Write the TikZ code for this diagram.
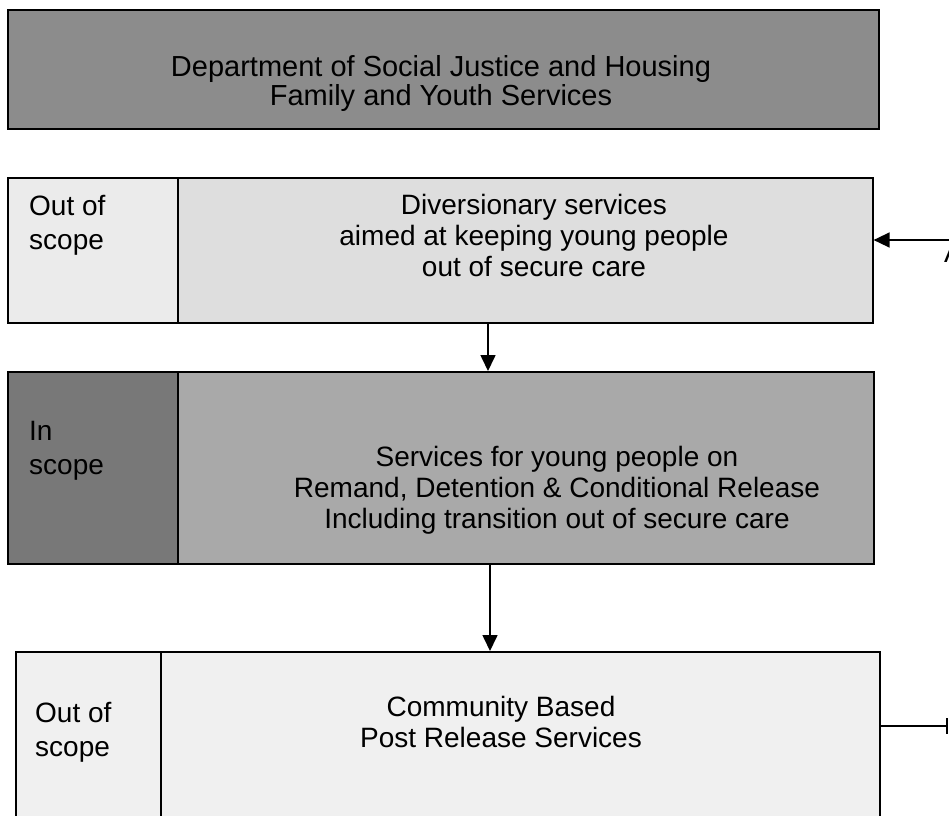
\documentclass[tikz,border=0pt]{standalone}
\usepackage{fontspec}
\setmainfont{Liberation Sans}
\usetikzlibrary{arrows.meta}
\definecolor{topgray}{HTML}{8C8C8C}
\definecolor{divleft}{HTML}{EBEBEB}
\definecolor{divright}{HTML}{DEDEDE}
\definecolor{inleft}{HTML}{787878}
\definecolor{inright}{HTML}{A9A9A9}
\definecolor{botgray}{HTML}{F0F0F0}
\begin{document}
\begin{tikzpicture}[x=1pt,y=-1pt,
  box/.style={draw=black, line width=1.6pt, inner sep=0pt, anchor=north west},
  txt/.style={align=center, inner sep=0pt, font=\fontsize{28}{31}\selectfont},
  toptxt/.style={align=center, inner sep=0pt, font=\fontsize{29}{29}\selectfont},
  lbl/.style={align=left, anchor=west, inner sep=0pt, font=\fontsize{28}{34}\selectfont},
  arr/.style={line width=1.6pt, -{Triangle[length=16pt,width=15pt]}},
  tee/.style={line width=1.6pt, -{Bar[width=16pt,line width=1.6pt]}}]
\useasboundingbox (0,0) rectangle (949,815);
\clip (0,0) rectangle (949,815);
% top box
\node[box, fill=topgray, minimum width=871pt, minimum height=119pt] (top) at (7,9) {};
\node[toptxt] (toptext) at (441,83) {Department of Social Justice and Housing\\Family and Youth Services};
% diversionary
\node[box, fill=divleft, minimum width=170pt, minimum height=145pt] (divL) at (7,177) {};
\node[box, fill=divright, minimum width=695pt, minimum height=145pt] (divR) at (177,177) {};
\node[lbl] (divlbl) at (29,225) {Out of\\scope};
\node[txt] (divtext) at (534,235) {Diversionary services\\aimed at keeping young people\\out of secure care};
% in scope
\node[box, fill=inleft, minimum width=170pt, minimum height=192pt] (inL) at (7,371) {};
\node[box, fill=inright, minimum width=696pt, minimum height=192pt] (inR) at (177,371) {};
\node[lbl] (inlbl) at (29,451) {In\\scope};
\node[txt] (intext) at (557,490) {Services for young people on\\Remand, Detention \& Conditional Release\\Including transition out of secure care};
% bottom
\node[box, fill=botgray, minimum width=145pt, minimum height=190pt] (botL) at (15,651) {};
\node[box, fill=botgray, minimum width=719pt, minimum height=190pt] (botR) at (160,651) {};
\node[lbl] (botlbl) at (35,732) {Out of\\scope};
\node[txt] (bottext) at (501,722) {Community Based\\Post Release Services};
% connectors
\coordinate (ax1) at (488,0);
\coordinate (ax2) at (490,0);
\draw[arr] (divR.south -| ax1) -- (inR.north -| ax1);
\draw[arr] (inR.south -| ax2) -- (botR.north -| ax2);
\coordinate (aA) at (955,240);
\draw[arr] (aA) -- (divR.east |- aA);
\node[anchor=north west, inner sep=0pt, font=\fontsize{28}{30}\selectfont] (Alabel) at (944,243) {A};
\coordinate (bB) at (948,726);
\draw[tee] (botR.east |- bB) -- (bB);
\end{tikzpicture}
\end{document}
